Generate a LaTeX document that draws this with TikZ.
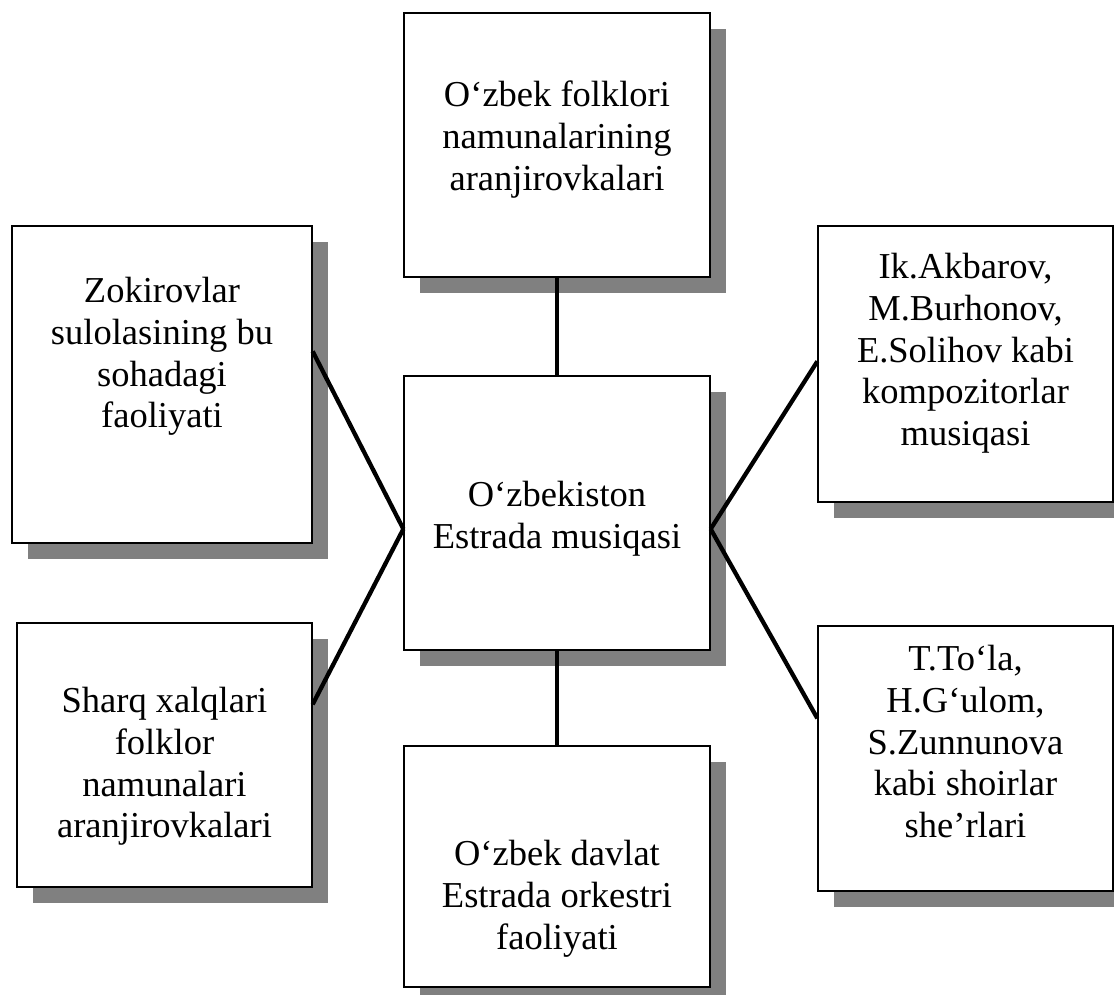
\documentclass[tikz,border=0pt]{standalone}
\usepackage{fontspec}
\setmainfont{Liberation Serif}
\usetikzlibrary{shadows}
\definecolor{shadowgray}{RGB}{128,128,128}
\begin{document}
\begin{tikzpicture}[x=1pt,y=-1pt,
  box/.style={rectangle, draw=black, line width=1.3pt, fill=white, inner sep=0pt,
    drop shadow={shadow xshift=16pt, shadow yshift=-16pt, fill=shadowgray, opacity=1}},
  label/.style={anchor=north, inner sep=0pt, align=center,
    font=\fontsize{36.5}{41.8}\selectfont},
  conn/.style={draw=black, line width=4.3pt}]
\useasboundingbox (0,0) rectangle (1114,995);
\clip (0,0) rectangle (1114,995);
% boxes
\node[box, minimum width=306pt, minimum height=264pt] (top)  at (557,145) {};
\node[box, minimum width=306pt, minimum height=274pt] (ctr)  at (557,513) {};
\node[box, minimum width=300pt, minimum height=317pt] (ltop) at (162,384.5) {};
\node[box, minimum width=295pt, minimum height=264pt] (lbot) at (164.5,755) {};
\node[box, minimum width=295pt, minimum height=276pt] (rtop) at (965.5,364) {};
\node[box, minimum width=295pt, minimum height=265pt] (rbot) at (965.5,758.5) {};
\node[box, minimum width=306pt, minimum height=241pt] (bot)  at (557,866.5) {};
% texts
\node[label] (ttop)  at (557,81)    {O‘zbek folklori\\namunalarining\\aranjirovkalari};
\node[label] (tctr)  at (557,481)   {O‘zbekiston\\Estrada musiqasi};
\node[label] (tltop) at (162,277)   {Zokirovlar\\sulolasining bu\\sohadagi\\faoliyati};
\node[label] (tlbot) at (164.5,687) {Sharq xalqlari\\folklor\\namunalari\\aranjirovkalari};
\node[label] (trtop) at (965.5,253) {Ik.Akbarov,\\M.Burhonov,\\E.Solihov kabi\\kompozitorlar\\musiqasi};
\node[label] (trbot) at (965.5,645) {T.To‘la,\\H.G‘ulom,\\S.Zunnunova\\kabi shoirlar\\she’rlari};
\node[label] (tbot)  at (557,840)   {O‘zbek davlat\\Estrada orkestri\\faoliyati};
% connector points
\coordinate (cw)  at ([yshift=-16pt]ctr.west);
\coordinate (ce)  at ([yshift=-16pt]ctr.east);
\coordinate (ltp) at ([yshift=-126pt]ltop.north east);
\coordinate (lbp) at ([yshift=-82pt]lbot.north east);
\coordinate (rtp) at ([yshift=-136pt]rtop.north west);
\coordinate (rbp) at ([yshift=-93pt]rbot.north west);
% connectors
\draw[conn] (top.south) -- (ctr.north);
\draw[conn] (ctr.south) -- (bot.north);
\draw[conn] (ltp) -- (cw);
\draw[conn] (lbp) -- (cw);
\draw[conn] (rtp) -- (ce);
\draw[conn] (rbp) -- (ce);
\end{tikzpicture}
\end{document}
